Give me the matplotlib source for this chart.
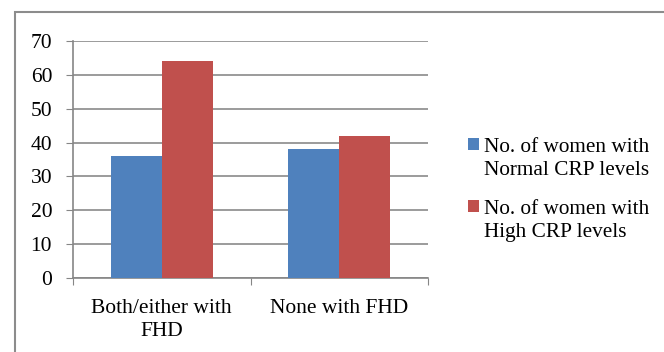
import numpy as np
import matplotlib.pyplot as plt
from matplotlib.patches import Rectangle

categories = ["Both/either with\nFHD", "None with FHD"]
normal_crp = [36, 38]
high_crp = [64, 42]
series_labels = ["No. of women with\nNormal CRP levels", "No. of women with\nHigh CRP levels"]

plt.rcParams['font.family'] = ['Liberation Serif', 'DejaVu Serif']

fig = plt.figure(figsize=(6.64, 3.52), dpi=100)

# outer chart border (cut off on right and bottom like the reference)
fig.patches.append(Rectangle((15 / 664, -0.05), 1.0, 1 - 12 / 352 + 0.05,
                             transform=fig.transFigure, fill=False,
                             edgecolor='#8c8c8c', linewidth=1.5))
# caption above the chart, mostly cut off at the top edge
fig.text(150 / 664, 1 + 5 / 352, "(Figure 10.1)", fontsize=19, va='baseline', ha='left')

ax = fig.add_axes([73 / 664, 1 - 278 / 352, (428 - 73) / 664, (278 - 41) / 352])

x = np.arange(len(categories))
w = 0.288
ax.bar(x + 0.5 - w / 2, normal_crp, w, color='#4F81BD', label=series_labels[0], zorder=3)
ax.bar(x + 0.5 + w / 2, high_crp, w, color='#C0504D', label=series_labels[1], zorder=3)

ax.set_xlim(0, len(categories))
ax.set_ylim(0, 70)
ax.set_yticks(range(0, 71, 10))
ax.set_xticks(np.arange(len(categories) + 1))
ax.set_xticklabels([])
ax.set_xticks(x + 0.5, minor=True)
ax.set_xticklabels(categories, minor=True, fontsize=15.5, linespacing=1.3)
ax.tick_params(axis='x', which='minor', length=0, pad=15)
ax.tick_params(axis='x', which='major', length=5, color='#868686')
ax.tick_params(axis='y', length=5, color='#868686', labelsize=15.5, pad=10)
ax.yaxis.grid(True, color='#8a8a8a', linewidth=1.2, zorder=0)

for s in ['top', 'right']:
    ax.spines[s].set_visible(False)
for s in ['left', 'bottom']:
    ax.spines[s].set_color('#868686')
    ax.spines[s].set_linewidth(1.2)

leg = ax.legend(loc='center left', bbox_to_anchor=(460 / 664, 1 - 190 / 352),
                bbox_transform=fig.transFigure, frameon=False, fontsize=15.3,
                handlelength=0.5, handleheight=0.5, handletextpad=0.22,
                labelspacing=0.93, borderaxespad=0)
for t in leg.get_texts():
    t.set_linespacing(1.3)
# marker sits beside the first line of each label
for col in leg._legend_handle_box.get_children():
    for row in col.get_children():
        row.align = "top"

fig.savefig("out.png", dpi=100)
